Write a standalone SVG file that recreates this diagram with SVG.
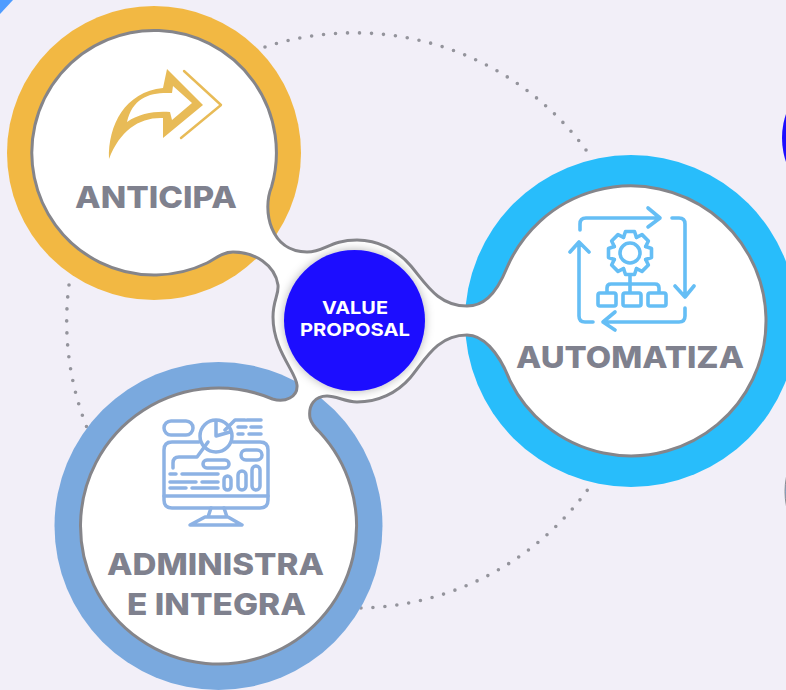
<svg xmlns="http://www.w3.org/2000/svg" width="786" height="690" viewBox="0 0 786 690">
<style>
.lbl{font-family:Inter,"Open Sans","Liberation Sans",sans-serif;font-weight:800;font-size:30px;fill:#7f818e}
.val{font-family:Inter,"Open Sans","Liberation Sans",sans-serif;font-weight:700;font-size:18px;fill:#fff}
.ic{fill:none;stroke-linecap:round;stroke-linejoin:round}
.a{stroke:#65bef5;stroke-width:3.6}
.b{stroke:#8db2e4;stroke-width:3.5}
.dots{fill:none;stroke:#94949c;stroke-width:3.6;stroke-linecap:round;stroke-dasharray:0 12}
</style>
<defs>
<filter id="sh" x="-30%" y="-30%" width="160%" height="160%"><feDropShadow dx="0" dy="0" stdDeviation="5" flood-color="#000" flood-opacity=".3"/></filter>
<path id="tooth" d="M-6.5,-15.7L-4.5,-21.500L4.500,-21.500L6.500,-15.700"/>
</defs>
<rect width="786" height="690" fill="#f2eff8"/>
<path d="M0,0H13L0,14Z" fill="#4f9cff"/>
<circle cx="856" cy="138" r="74" fill="#1d0dff"/>
<circle cx="858" cy="491.500" r="73" fill="#7fb0e6" stroke="#8a8a8e" stroke-width="1"/>
<g id="connectors">
<path class="dots" d="M265,47A288,288 0 0 1 587.500,152"/>
<path class="dots" d="M69,285A288,288 0 0 0 87.500,429"/>
<path class="dots" d="M361,608A288,288 0 0 0 587.500,490"/>
</g>
<g id="rings">
<circle cx="154" cy="153" r="147" fill="#f2b843"/>
<circle cx="631" cy="321" r="166" fill="#28bdfb"/>
<circle cx="218.500" cy="526" r="164" fill="#7aa9de"/>
</g>
<path id="blob" fill="#fff" stroke="#85858a" stroke-width="3" d="M207,263A122.300,122.300 0 1 1 271.500,187C262,210 270,252 307,252C325,252 330,240 357,240C378,240 397,250 410,265C425,282 437,306 467,306C482,306 495,297 506.800,268A135,135 0 1 1 510.100,381C498,350 482,335 467,335C437,335 425,360 410,378C397,393 378,402 357,402C345,402 337,396 327,396C315,396 308,405 310,418Q312,425 319.540,432A138,138 0 1 1 272.470,399C285,403 298,397 297,385C296,372 273,350 273,317C273,300 279,295 278,285C275,265 255,252 233,252C222,252 215,259 207,263Z"/>
<g id="anticipa">
<path fill="#e8bb57" fill-rule="evenodd" d="M109,159C108,125 125,92 163,88L167,69L203,105L163,138L163,118C140,117 120,130 109,159ZM172,93C150,92 133,97 127,122C140,113 155,111 170,112L172,120L192,103L173,86Z"/>
<path d="M184,71L221,105L181,138" fill="none" stroke="#e8bb57" stroke-width="2.400" stroke-linecap="round" stroke-linejoin="round"/>
<text class="lbl" x="75" y="208" textLength="162" lengthAdjust="spacingAndGlyphs">ANTICIPA</text>
</g>
<g id="automatiza">
<g class="ic a">
<path d="M580,230V224Q580,218 586,218H660M648,208L660,218L648,227"/>
<path d="M672,218H679Q685,218 685,224V297M675,286L685,297L694,286"/>
<path d="M685,308V316Q685,322 679,322H603M615,312L603,322L615,330"/>
<path d="M593,322H585Q579,322 579,316V242M570,252L579,242L589,252"/>
<circle cx="630" cy="253" r="10"/>
<g transform="translate(630,253)">
<use href="#tooth"/><use href="#tooth" transform="rotate(45)"/><use href="#tooth" transform="rotate(90)"/><use href="#tooth" transform="rotate(135)"/><use href="#tooth" transform="rotate(180)"/><use href="#tooth" transform="rotate(225)"/><use href="#tooth" transform="rotate(270)"/><use href="#tooth" transform="rotate(315)"/>
</g>
<path d="M630,275V292M607,292V288Q607,284 611,284H655Q659,284 659,288V292"/>
<rect x="598" y="293" width="18" height="13" rx="2"/>
<rect x="623" y="293" width="18" height="13" rx="2"/>
<rect x="648" y="293" width="18" height="13" rx="2"/>
</g>
<text class="lbl" x="516" y="368" textLength="228" lengthAdjust="spacingAndGlyphs">AUTOMATIZA</text>
</g>
<g id="administra">
<g class="ic b">
<rect x="164" y="421" width="29" height="14" rx="7"/>
<circle cx="216" cy="436" r="16"/>
<path d="M216,421V436L230,432"/>
<path d="M199,442H172Q164,442 164,450V500Q164,508 172,508H260Q268,508 268,500V450Q268,442 260,442H233"/>
<path d="M164,496H268"/>
<path d="M211,508L208,517M224,508L227,517M205,517H228L242,525H190Z"/>
<path d="M208,442L197,457H179Q173,457 173,463V468"/>
<rect x="203" y="460" width="26" height="8" rx="4"/>
<rect x="241" y="450" width="21" height="10" rx="5"/>
<rect x="224" y="476" width="7" height="14" rx="3.500"/>
<rect x="238" y="471" width="8" height="19" rx="4"/>
<rect x="252" y="466" width="8" height="24" rx="4"/>
<path d="M170,474H176M182,474H218M170,482H196M202,482H218M170,488H186M192,488H218"/>
<path d="M225,430L235,420H245M247,420H261M238,427H246M251,427H261M238,434H243M249,434H261"/>
</g>
<text class="lbl" x="107" y="575" textLength="217" lengthAdjust="spacingAndGlyphs">ADMINISTRA</text>
<text class="lbl" x="127" y="615" textLength="179" lengthAdjust="spacingAndGlyphs">E INTEGRA</text>
</g>
<g id="value-proposal">
<circle cx="354.500" cy="320.500" r="70.500" fill="#1d0dff" filter="url(#sh)"/>
<text class="val" x="322" y="314" textLength="66" lengthAdjust="spacingAndGlyphs">VALUE</text>
<text class="val" x="300" y="336" textLength="110" lengthAdjust="spacingAndGlyphs">PROPOSAL</text>
</g>
</svg>
